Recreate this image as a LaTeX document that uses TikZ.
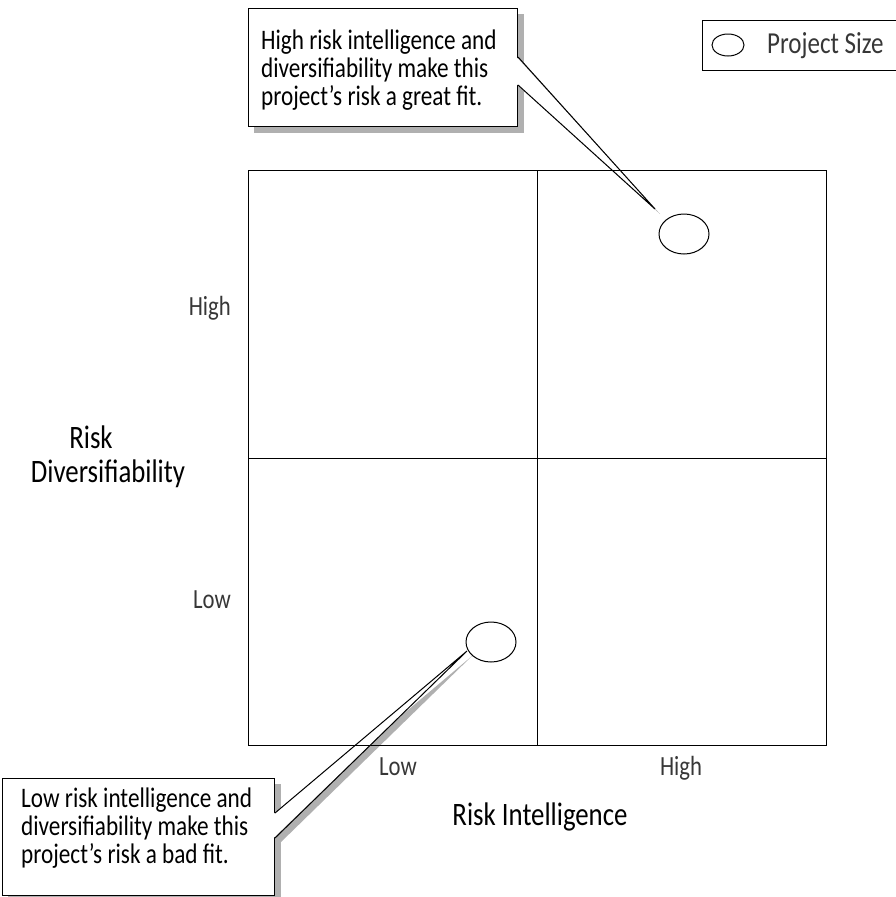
\documentclass[tikz,border=0pt]{standalone}
\usepackage{fontspec}
\setmainfont[FakeStretch=0.82]{Carlito}
\usetikzlibrary{calc,shapes.geometric}
\pgfdeclarelayer{bg}
\pgfsetlayers{bg,main}
\definecolor{shadowgray}{RGB}{176,176,176}
\definecolor{lightink}{RGB}{55,55,55}
\begin{document}
\begin{tikzpicture}[x=1pt,y=-1pt,
  frame/.style={draw=black,line width=1.2pt},
  boxshape/.style={draw=black,fill=white,line width=1pt,inner sep=0pt,anchor=north west},
  calltext/.style={anchor=base west,align=left,inner sep=0pt,font=\fontsize{28.3}{28}\selectfont},
  ticklabel/.style={inner sep=0pt,text=lightink,font=\fontsize{27.7}{30}\selectfont},
  axistitle/.style={inner sep=0pt,anchor=base,font=\fontsize{32.7}{34}\selectfont},
  bubble/.style={ellipse,draw=black,line width=1pt,inner sep=0pt,minimum width=50pt,minimum height=40pt},
  wedgeline/.style={draw=black,line width=1pt,line join=miter}]
\useasboundingbox (0,0) rectangle (896,897);

% ---------- upper callout ----------
\node[boxshape,minimum width=269pt,minimum height=118pt] (hbox) at (248,8) {};
\node[calltext] (htext) at (261,105) {High risk intelligence and\\diversifiability make this\\project's risk a great fit.};
\coordinate (htip) at (655,209);
\coordinate (ha) at ($(hbox.north east)+(0,49)$);
\coordinate (hb) at ($(hbox.north east)+(0,77)$);
\fill[white] ($(ha)+(-1,0.5)$) -- (htip) -- ($(hb)+(-1,-0.5)$) -- cycle;
\draw[wedgeline] (ha) -- (htip) -- (hb);

% ---------- lower callout ----------
\node[boxshape,minimum width=272pt,minimum height=117pt] (lbox) at (2,778) {};
\node[calltext] (ltext) at (21,863) {Low risk intelligence and\\diversifiability make this\\project's risk a bad fit.};
\coordinate (ltip) at (467,651);
\coordinate (la) at ($(lbox.north east)+(0,35)$);
\coordinate (lb) at ($(lbox.north east)+(0,60)$);
\fill[white] ($(la)+(-1,0.5)$) -- (ltip) -- ($(lb)+(-1,-0.5)$) -- cycle;
\draw[wedgeline] (la) -- (ltip) -- (lb);

% ---------- shadows ----------
\begin{pgfonlayer}{bg}
\fill[shadowgray] ($(hbox.north west)+(6,6)$) rectangle ($(hbox.south east)+(6,6)$);
\fill[shadowgray] ($(ha)+(5,5)$) -- ($(htip)+(5,5)$) -- ($(hb)+(5,5)$) -- cycle;
\fill[shadowgray] ($(lbox.north west)+(6,6)$) rectangle ($(lbox.south east)+(6,6)$);
\fill[shadowgray] ($(la)+(5,5)$) -- ($(ltip)+(5,5)$) -- ($(lb)+(5,5)$) -- cycle;
\end{pgfonlayer}

% ---------- matrix ----------
\node[frame,inner sep=0pt,anchor=north west,minimum width=578pt,minimum height=575pt] (grid) at (248,170) {};
\draw[frame] (grid.north) -- (grid.south);
\draw[frame] (grid.west) -- (grid.east);

\node[bubble] (big) at (684,234) {};
\node[bubble] (small) at (491,642) {};

% ---------- axis labels ----------
\node[ticklabel,anchor=base east] (hiY) at (231,315) {High};
\node[ticklabel,anchor=base east] (loY) at (231,608) {Low};
\node[ticklabel,anchor=base] (loX) at (398,775) {Low};
\node[ticklabel,anchor=base] (hiX) at (681,775) {High};
\node[axistitle] (xtitle) at (540,825) {Risk Intelligence};
\node[axistitle] (ytitleA) at (91,448) {Risk};
\node[axistitle] (ytitleB) at (108,482) {Diversifiability};

% ---------- legend ----------
\node[draw=black,line width=1pt,inner sep=0pt,anchor=north west,minimum width=200pt,minimum height=50pt] (legend) at (702,20) {};
\node[bubble,minimum width=32pt,minimum height=22pt] (legbubble) at (728,45) {};
\node[ticklabel,anchor=base west,font=\fontsize{30.5}{32}\selectfont] (legtext) at (767,53) {Project Size};
\end{tikzpicture}
\end{document}
